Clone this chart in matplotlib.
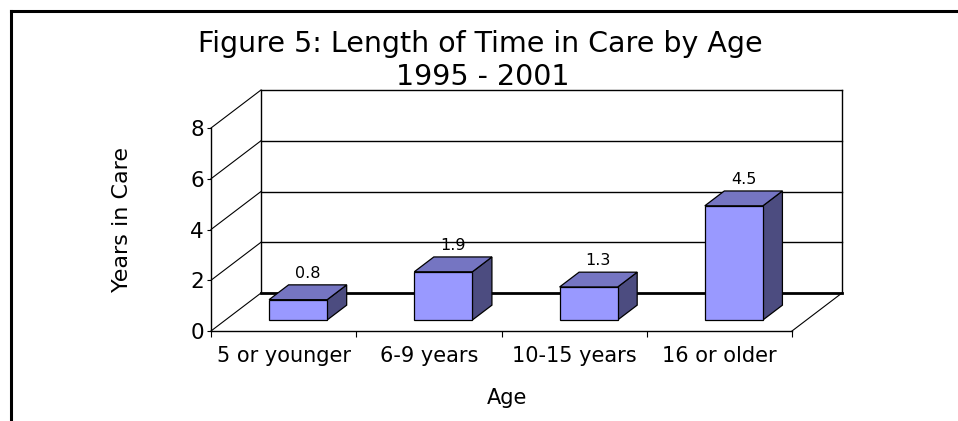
import matplotlib.pyplot as plt
from matplotlib.patches import Polygon
from matplotlib.lines import Line2D

# data
categories = ['5 or younger', '6-9 years', '10-15 years', '16 or older']
years = [0.8, 1.9, 1.3, 4.5]
yticks = [0, 2, 4, 6, 8]

W, H = 958, 421
fig = plt.figure(figsize=(W / 100, H / 100), dpi=100)

# front plot box in pixels
x0, x1, yb, yt = 211, 792, 331, 128
ax = fig.add_axes([x0 / W, (H - yb) / H, (x1 - x0) / W, (yb - yt) / H])
ax.set_xlim(0, len(categories))
ax.set_ylim(0, 8)

# depth offset (data units) of the 3d box
px_x = (x1 - x0) / len(categories)
px_y = (yb - yt) / 8
DX = 50 / px_x
DY = 38 / px_y


def proj(x, y, z):
    return x + z * DX, y + z * DY


def seg(p, q, **kw):
    ax.add_line(Line2D([p[0], q[0]], [p[1], q[1]], clip_on=False, **kw))


n = len(categories)
# back wall and side wall gridlines
for v in yticks:
    seg(proj(0, v, 0), proj(0, v, 1), color='black', lw=0.8)
    if v > 0:
        seg(proj(0, v, 1), proj(n, v, 1), color='black', lw=1.0)
seg(proj(0, 0, 1), proj(n, 0, 1), color='black', lw=2.0)
seg(proj(0, 0, 1), proj(0, 8, 1), color='black', lw=1.0)
seg(proj(n, 0, 1), proj(n, 8, 1), color='black', lw=1.0)
# floor right edge
seg(proj(n, 0, 0), proj(n, 0, 1), color='black', lw=0.8)

# bars
bw = 0.4
z1, z2 = 0.29, 0.68
front_c, top_c, side_c = '#9999FF', '#7575C2', '#4C4C80'
for i, v in enumerate(years):
    l = i + 0.5 - bw / 2
    r = i + 0.5 + bw / 2
    front = [proj(l, 0, z1), proj(r, 0, z1), proj(r, v, z1), proj(l, v, z1)]
    top = [proj(l, v, z1), proj(r, v, z1), proj(r, v, z2), proj(l, v, z2)]
    side = [proj(r, 0, z1), proj(r, 0, z2), proj(r, v, z2), proj(r, v, z1)]
    for pts, c in [(side, side_c), (top, top_c), (front, front_c)]:
        ax.add_patch(Polygon(pts, closed=True, facecolor=c, edgecolor='black',
                             lw=0.9, clip_on=False, zorder=3))
    tx, ty = proj(i + 0.5, v, (z1 + z2) / 2)
    ax.annotate(f'{v:.1f}', (tx, v + z2 * DY), xytext=(0, 3),
                textcoords='offset points', ha='center', va='bottom',
                fontsize=11.5, zorder=4, annotation_clip=False)

# axes styling
for s in ['top', 'right']:
    ax.spines[s].set_visible(False)
ax.spines['left'].set_linewidth(1.0)
ax.spines['bottom'].set_linewidth(1.0)
ax.set_yticks(yticks)
ax.tick_params(axis='y', direction='out', length=3, width=0.8, pad=2, labelsize=15.5)
ax.set_xticks(range(n + 1))
ax.set_xticklabels([])
ax.set_xticks([i + 0.5 for i in range(n)], minor=True)
ax.set_xticklabels(categories, minor=True, fontsize=15)
ax.tick_params(axis='x', which='major', direction='out', length=4, width=0.8)
ax.tick_params(axis='x', which='minor', length=0, pad=11)

fig.text(480 / W, 1 - 44 / H, 'Figure 5: Length of Time in Care by Age',
         ha='center', va='center', fontsize=20.5)
fig.text(483 / W, 1 - 77 / H, '1995 - 2001', ha='center', va='center', fontsize=20.5)
fig.text(122 / W, 1 - 220 / H, 'Years in Care', ha='center', va='center',
         rotation=90, fontsize=16)
fig.text(507 / W, 1 - 398 / H, 'Age', ha='center', va='center', fontsize=15)

# outer frame
fig.add_artist(Line2D([11 / W, 1], [1 - 11 / H, 1 - 11 / H], color='black', lw=2.2))
fig.add_artist(Line2D([11 / W, 11 / W], [0, 1 - 11 / H], color='black', lw=2.2))

fig.savefig('out.png', dpi=100)
